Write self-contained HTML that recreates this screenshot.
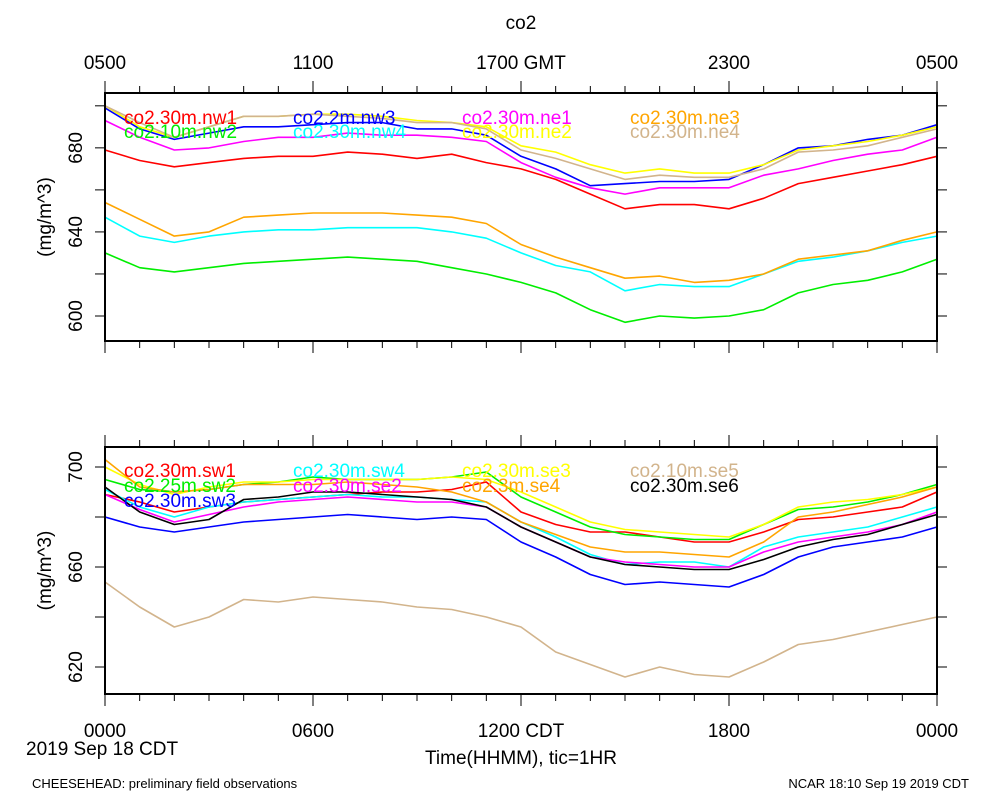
<!DOCTYPE html>
<html><head><meta charset="utf-8"><style>
html,body{margin:0;padding:0;background:#fff;}
svg{display:block;font-family:"Liberation Sans",sans-serif;}
</style></head><body>
<svg id="chart" width="1000" height="800" viewBox="0 0 1000 800" xmlns="http://www.w3.org/2000/svg">
<rect width="1000" height="800" fill="#fff"/>
<text x="521" y="29" font-size="19" text-anchor="middle">co2</text>
<text x="521" y="764" font-size="19" text-anchor="middle">Time(HHMM), tic=1HR</text>
<text x="26" y="755" font-size="19">2019 Sep 18 CDT</text>
<text x="32" y="788" font-size="13">CHEESEHEAD: preliminary field observations</text>
<text x="969" y="788" font-size="13" text-anchor="end">NCAR 18:10 Sep 19 2019 CDT</text>
</svg>
<script>
const hours = [0,1,2,3,4,5,6,7,8,9,10,11,12,13,14,15,16,17,18,19,20,21,22,23,24];
const topTickLabels = ["0500","1100","1700 GMT","2300","0500"];
const botTickLabels = ["0000","0600","1200 CDT","1800","0000"];
const topYTicks = [600,640,680];
const botYTicks = [620,660,700];
const topNames = ["co2.30m.nw1","co2.10m.nw2","co2.2m.nw3","co2.30m.nw4","co2.30m.ne1","co2.30m.ne2","co2.30m.ne3","co2.30m.ne4"];
const topColors = ["#ff0000","#00ee00","#0000ff","#00ffff","#ff00ff","#ffff00","#ffa500","#d2b48c"];
const nw1 = [679,674,671,673,675,676,676,678,677,675,677,673,670,665,658,651,653,653,651,656,663,666,669,672,676];
const nw2 = [630,623,621,623,625,626,627,628,627,626,623,620,616,611,603,597,600,599,600,603,611,615,617,621,627];
const nw3 = [699,689,684,687,690,690,691,692,692,689,689,686,676,670,662,663,664,664,665,672,680,681,684,686,691];
const nw4 = [647,638,635,638,640,641,641,642,642,642,640,637,630,624,621,612,615,614,614,620,626,628,631,635,638];
const ne1 = [693,685,679,680,683,685,685,687,686,686,685,683,673,666,661,658,661,661,661,667,670,674,677,679,685];
const ne2 = [700,690,685,690,695,695,696,696,695,693,692,690,681,678,672,668,670,668,668,672,679,681,683,686,690];
const ne3 = [654,646,638,640,647,648,649,649,649,648,647,644,634,628,623,618,619,616,617,620,627,629,631,636,640];
const ne4 = [700,692,685,690,695,695,696,695,694,692,692,689,679,675,670,665,667,666,666,670,678,679,681,685,689];
const topSeries = [nw1,nw2,nw3,nw4,ne1,ne2,ne3,ne4];
const botNames = ["co2.30m.sw1","co2.25m.sw2","co2.30m.sw3","co2.30m.sw4","co2.30m.se2","co2.30m.se3","co2.3m.se4","co2.10m.se5","co2.30m.se6"];
const botColors = ["#ff0000","#00ee00","#0000ff","#00ffff","#ff00ff","#ffff00","#ffa500","#d2b48c","#000000"];
const sw1 = [689,686,682,684,686,687,688,689,690,690,691,694,682,677,674,674,672,670,670,674,679,680,682,684,690];
const sw2 = [695,691,690,691,693,694,696,695,695,695,696,698,688,682,676,673,672,671,671,677,683,684,686,689,693];
const sw3 = [680,676,674,676,678,679,680,681,680,679,680,679,670,664,657,653,654,653,652,657,664,668,670,672,676];
const sw4 = [691,684,680,684,686,687,688,689,688,688,687,686,678,672,665,661,662,662,660,668,672,674,676,680,684];
const se2 = [689,683,678,681,684,686,687,688,687,686,686,684,676,670,664,662,661,660,660,666,670,672,674,677,682];
const se3 = [700,693,689,692,694,694,695,695,695,695,696,695,690,684,678,675,674,673,672,677,684,686,687,689,692];
const se4 = [703,692,690,691,693,693,693,694,693,692,690,686,678,673,668,666,666,665,664,670,680,682,685,688,692];
const se5 = [654,644,636,640,647,646,648,647,646,644,643,640,636,626,621,616,620,617,616,622,629,631,634,637,640];
const se6 = [692,682,677,679,687,688,690,690,689,688,687,684,676,670,664,661,660,659,659,663,668,671,673,677,681];
const botSeries = [sw1,sw2,sw3,sw4,se2,se3,se4,se5,se6];

const NS="http://www.w3.org/2000/svg";
const svg=document.getElementById('chart');
const X0=105,X1=937;
const xs=h=>X0+(X1-X0)*h/24;
function mk(tag,attrs,parent){const e=document.createElementNS(NS,tag);for(const k in attrs)e.setAttribute(k,attrs[k]);(parent||svg).appendChild(e);return e;}

function panel(id,top,bot,vmin,vmax,yTicks,minorStep,xLabels,labelY,series,names,colors){
  const ys=v=>bot-(v-vmin)*(bot-top)/(vmax-vmin);
  const g=mk('g',{});
  
  
  series.forEach((s,i)=>{
    const p=mk('polyline',{points:s.map((v,j)=>xs(hours[j]).toFixed(1)+','+ys(v).toFixed(1)).join(' '),fill:'none',stroke:colors[i],'stroke-width':1.6,'stroke-linejoin':'round'},g);
    
    
  });
  const b=mk('rect',{x:X0,y:top,width:X1-X0,height:bot-top,fill:'none',stroke:'#000','stroke-width':2},g);
  
  
  for(let h=0;h<=24;h++){
    const major=h%6===0, x=xs(h);
    mk('line',{x1:x,x2:x,y1:top,y2:top-(major?12:7),stroke:'#000','stroke-width':1},g);
    mk('line',{x1:x,x2:x,y1:bot,y2:bot+(major?12:7),stroke:'#000','stroke-width':1},g);
  }
  xLabels.forEach((t,i)=>{
    const tx=mk('text',{x:xs(i*6),y:labelY,'font-size':19,'text-anchor':'middle'},g);
    tx.textContent=t;
    
    
  });
  for(let v=Math.ceil(vmin/minorStep)*minorStep;v<=vmax;v+=minorStep){
    const y=ys(v);
    mk('line',{x1:X0,x2:X0-10,y1:y,y2:y,stroke:'#000','stroke-width':1},g);
    mk('line',{x1:X1,x2:X1+10,y1:y,y2:y,stroke:'#000','stroke-width':1},g);
  }
  yTicks.forEach(v=>{
    const y=ys(v);
    const tx=mk('text',{x:0,y:0,'font-size':19,'text-anchor':'middle',transform:`translate(82,${y}) rotate(-90)`},g);
    tx.textContent=String(v);
    
    
  });
  const yt=mk('text',{x:0,y:0,'font-size':19,'text-anchor':'middle',transform:`translate(51,${(top+bot)/2}) rotate(-90)`},g);
  yt.textContent='(mg/m^3)';
  
  
  return ys;
}

panel('top',93,341,588.1,706.1,topYTicks,20,topTickLabels,69,topSeries,topNames,topColors);
panel('bottom',447,694,609.2,708.0,botYTicks,20,botTickLabels,737,botSeries,botNames,botColors);

const legCols=[124,293,462,630];
const topLegPos=[[0,0],[0,1],[1,0],[1,1],[2,0],[2,1],[3,0],[3,1]];
topNames.forEach((n,i)=>{
  const [c,r]=topLegPos[i];
  const t=mk('text',{x:legCols[c],y:124+r*14,'font-size':19,fill:topColors[i]});
  t.textContent=n;
  
  
});
const botLegPos=[[0,0],[0,1],[0,2],[1,0],[1,1],[2,0],[2,1],[3,0],[3,1]];
botNames.forEach((n,i)=>{
  const [c,r]=botLegPos[i];
  const t=mk('text',{x:legCols[c],y:477+r*15,'font-size':19,fill:botColors[i]});
  t.textContent=n;
  
  
});
</script>
</body></html>
